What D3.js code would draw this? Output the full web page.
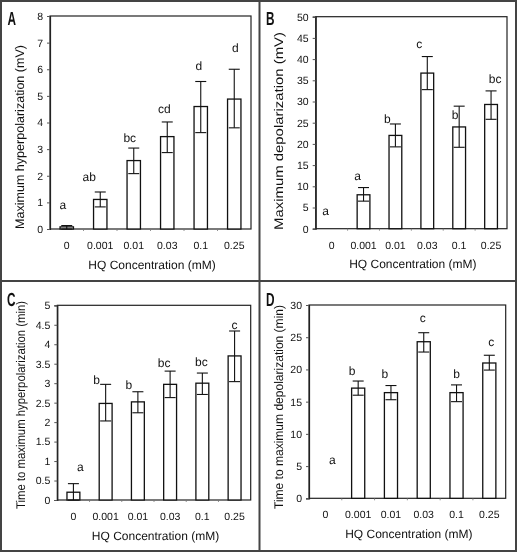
<!DOCTYPE html>
<html><head><meta charset="utf-8">
<script src="https://cdn.jsdelivr.net/npm/d3@7"></script>
<style>
html,body{margin:0;padding:0;background:#fff;}
svg{will-change:transform;}
svg text{font-family:"Liberation Sans",Arial,sans-serif;fill:#111;text-rendering:geometricPrecision;-webkit-font-smoothing:antialiased;}
</style></head>
<body>
<svg id="chart" width="518" height="553"></svg>
<script>
// ---------- data ----------
const categories = ["0","0.001","0.01","0.03","0.1","0.25"];

// A: Maximum hyperpolarization (mV)
const hyperMean = [0.08, 1.11, 2.57, 3.47, 4.60, 4.88];
const hyperHigh = [0.13, 1.39, 3.04, 4.02, 5.54, 6.00];
const hyperLow  = [0.00, 0.83, 2.08, 2.87, 3.62, 3.80];
const hyperSig  = ["a","ab","bc","cd","d","d"];
const hyperSigY = [0.75, 1.80, 3.28, 4.37, 5.97, 6.63];
const hyperTicks = ["0","1","2","3","4","5","6","7","8"];

// B: Maximum depolarization (mV)
const depolMean = [0, 8.0, 22.0, 36.7, 24.0, 29.3];
const depolHigh = [0, 9.7, 24.7, 40.6, 28.9, 32.5];
const depolLow  = [0, 6.5, 19.3, 32.8, 19.2, 25.8];
const depolSig  = ["a","a","b","c","b","bc"];
const depolSigY = [3.2, 11.5, 24.9, 42.7, 25.8, 34.3];
const depolTicks = ["0","5","10","15","20","25","30","35","40","45","50"];

// C: Time to maximum hyperpolarization (min)
const tHyperMean = [0.20, 2.48, 2.52, 2.97, 3.00, 3.70];
const tHyperHigh = [0.42, 2.97, 2.78, 3.31, 3.26, 4.34];
const tHyperLow  = [0.00, 2.03, 2.24, 2.63, 2.71, 3.04];
const tHyperSig  = ["a","b","b","bc","bc","c"];
const tHyperSigY = [0.74, 2.97, 2.84, 3.42, 3.44, 4.39];
const tHyperTicks = ["0","0.5","1","1.5","2","2.5","3","3.5","4","4.5","5"];

// D: Time to maximum depolarization (min)
const tDepolMean = [0, 17.1, 16.4, 24.3, 16.4, 21.0];
const tDepolHigh = [0, 18.2, 17.5, 25.7, 17.6, 22.2];
const tDepolLow  = [0, 16.0, 15.3, 22.7, 15.0, 19.9];
const tDepolSig  = ["a","b","b","c","b","c"];
const tDepolSigY = [5.3, 19.1, 18.7, 27.3, 18.7, 23.6];
const tDepolTicks = ["0","5","10","15","20","25","30"];

const xTitle = "HQ Concentration (mM)";

// ---------- layout ----------
const svg = d3.select("#chart");

svg.append("rect").attr("x",1).attr("y",1).attr("width",515).attr("height",550)
  .attr("fill","none").attr("stroke","#444").attr("stroke-width",2);
svg.append("line").attr("x1",259.5).attr("x2",259.5).attr("y1",1).attr("y2",551)
  .attr("stroke","#444").attr("stroke-width",2);
svg.append("line").attr("x1",1).attr("x2",516).attr("y1",281).attr("y2",281)
  .attr("stroke","#444").attr("stroke-width",2);

const panels = [
  {letter:"A", lx:7.5, ly:25, left:50, right:251, top:16, bottom:229, yMax:8,
   mean:hyperMean, hi:hyperHigh, lo:hyperLow, sig:hyperSig, sigY:hyperSigY, ticks:hyperTicks,
   sigDx:[-4,-11,-4,-3,-2,1],
   yTitle:"Maximum hyperpolarization (mV)", ytx:23.5, yty:137, ytl:184},
  {letter:"B", lx:266, ly:25, left:315.7, right:507, top:16.7, bottom:228.7, yMax:50,
   mean:depolMean, hi:depolHigh, lo:depolLow, sig:depolSig, sigY:depolSigY, ticks:depolTicks,
   sigDx:[-6,-6,-8,-8,-4,4],
   yTitle:"Maximum depolarization (mV)", ytx:283, yty:131, ytl:198},
  {letter:"C", lx:7, ly:306, left:57.3, right:250.7, top:305.3, bottom:500, yMax:5,
   mean:tHyperMean, hi:tHyperHigh, lo:tHyperLow, sig:tHyperSig, sigY:tHyperSigY, ticks:tHyperTicks,
   sigDx:[7,-9,-9,-6,-1,0],
   yTitle:"Time to maximum hyperpolarization (min)", ytx:25, yty:405, ytl:208},
  {letter:"D", lx:266, ly:306, left:309, right:505.7, top:305, bottom:498.3, yMax:30,
   mean:tDepolMean, hi:tDepolHigh, lo:tDepolLow, sig:tDepolSig, sigY:tDepolSigY, ticks:tDepolTicks,
   sigDx:[7,-6,-6,-1,0,2],
   yTitle:"Time to maximum depolarization (min)", ytx:283, yty:407, ytl:204}
];

panels.forEach(p => {
  const g = svg.append("g");
  const x = d3.scaleBand().domain(categories).range([p.left, p.right]).paddingInner(0.6).paddingOuter(0.3);
  const y = d3.scaleLinear().domain([0, p.yMax]).range([p.bottom, p.top]);
  const band = d3.scaleBand().domain(categories).range([p.left, p.right]);

  // panel letter
  g.append("text").attr("transform",`translate(${p.lx},${p.ly}) scale(0.62,1)`)
    .attr("font-size",19).attr("font-weight","bold").text(p.letter);

  // frame
  g.append("rect").attr("x",p.left).attr("y",p.top).attr("width",p.right-p.left).attr("height",p.bottom-p.top)
    .attr("fill","none").attr("stroke","#222").attr("stroke-width",1.2);

  // y axis
  const yAxis = d3.axisLeft(y).tickValues(p.ticks.map(Number)).tickFormat((d,i)=>p.ticks[i])
    .tickSize(3).tickPadding(4);
  const ya = g.append("g").attr("transform",`translate(${p.left},0)`).call(yAxis);
  ya.select(".domain").attr("stroke","#222").attr("stroke-width",1.2);
  ya.selectAll(".tick line").attr("stroke","#555");
  ya.selectAll(".tick text").attr("font-size",10.5).attr("font-family","Liberation Sans, Arial, sans-serif").attr("fill","#111");

  // x boundary ticks
  g.selectAll(".xb").data(categories.slice(1)).enter().append("line")
    .attr("x1",d=>band(d)).attr("x2",d=>band(d)).attr("y1",p.bottom).attr("y2",p.bottom+2)
    .attr("stroke","#777").attr("stroke-width",0.8);

  // x labels
  g.selectAll(".xl").data(categories).enter().append("text")
    .attr("x",d=>x(d)+x.bandwidth()/2).attr("y",p.bottom+20)
    .attr("text-anchor","middle").attr("font-size",10.5).text(d=>d);

  g.append("text").attr("x",(p.left+p.right)/2+1.5).attr("y",p.bottom+39.5)
    .attr("text-anchor","middle").attr("font-size",12).text(xTitle);

  // y title
  g.append("text").attr("transform",`translate(${p.ytx},${p.yty}) rotate(-90)`)
    .attr("text-anchor","middle").attr("font-size",12.5)
    .attr("textLength",p.ytl).attr("lengthAdjust","spacingAndGlyphs").text(p.yTitle);

  const idx = categories.map((c,i)=>i);
  // bars
  g.selectAll(".bar").data(idx.filter(i=>p.mean[i]>0)).enter().append("rect")
    .attr("x",i=>x(categories[i])).attr("width",x.bandwidth())
    .attr("y",i=>y(p.mean[i])).attr("height",i=>y(0)-y(p.mean[i]))
    .attr("fill","#fff").attr("stroke","#111").attr("stroke-width",1.3);

  // error bars
  const eb = idx.filter(i=>p.hi[i]>0);
  const cx = i => x(categories[i]) + x.bandwidth()/2;
  const cw = 5.5;
  g.selectAll(".ev").data(eb).enter().append("line")
    .attr("x1",cx).attr("x2",cx).attr("y1",i=>y(p.hi[i])).attr("y2",i=>y(p.lo[i]))
    .attr("stroke","#111").attr("stroke-width",1.1);
  g.selectAll(".eh").data(eb).enter().append("line")
    .attr("x1",i=>cx(i)-cw).attr("x2",i=>cx(i)+cw).attr("y1",i=>y(p.hi[i])).attr("y2",i=>y(p.hi[i]))
    .attr("stroke","#111").attr("stroke-width",1.1);
  g.selectAll(".el").data(eb).enter().append("line")
    .attr("x1",i=>cx(i)-cw).attr("x2",i=>cx(i)+cw).attr("y1",i=>y(p.lo[i])).attr("y2",i=>y(p.lo[i]))
    .attr("stroke","#111").attr("stroke-width",1.1);

  // significance letters
  g.selectAll(".sig").data(idx).enter().append("text")
    .attr("x",i=>cx(i)+p.sigDx[i]).attr("y",i=>y(p.sigY[i]))
    .attr("text-anchor","middle").attr("font-size",12).text(i=>p.sig[i]);
});
</script>
</body></html>
